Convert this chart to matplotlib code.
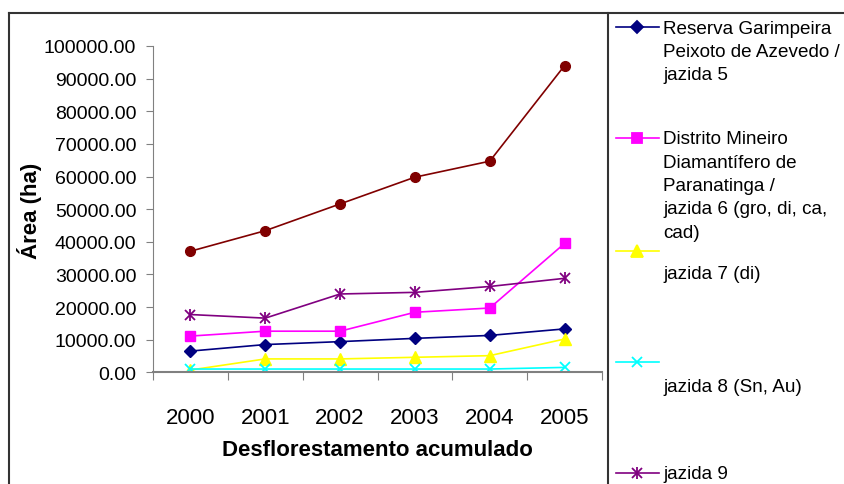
import numpy as np
import matplotlib.pyplot as plt
from matplotlib.lines import Line2D

plt.rcParams['font.family'] = ['Liberation Sans', 'DejaVu Sans']

# Dados: área desflorestada acumulada (ha) por jazida
anos = ['2000', '2001', '2002', '2003', '2004', '2005']
jazida5 = [6500, 8500, 9400, 10400, 11300, 13300]
jazida6 = [11100, 12600, 12600, 18400, 19700, 39500]
jazida7 = [700, 4100, 4100, 4600, 5100, 10200]
jazida8 = [1000, 1000, 1000, 1000, 1000, 1500]
jazida9 = [17700, 16600, 24000, 24500, 26300, 28800]
jazida10 = [37100, 43400, 51600, 59800, 64700, 94000]

W, H = 844, 485
fig = plt.figure(figsize=(W / 100, H / 100), dpi=100)


def fx(x):
    return x / W


def fy(y):
    return 1 - y / H


ax = fig.add_axes([fx(153), fy(373.3), (602 - 153) / W, (373.3 - 47) / H])

x = np.arange(len(anos))
lw = 1.2
ax.plot(x, jazida5, color='#000080', lw=lw, marker='D', ms=6)
ax.plot(x, jazida6, color='#FF00FF', lw=lw, marker='s', ms=7)
ax.plot(x, jazida7, color='#FFFF00', lw=lw, marker='^', ms=8)
ax.plot(x, jazida8, color='#00FFFF', lw=lw, marker='x', ms=7, mew=1.3)
ax.plot(x, jazida9, color='#800080', lw=lw, marker='x', ms=7, mew=1.3)
ax.plot(x, jazida9, color='#800080', lw=0, marker='|', ms=8, mew=1.3)
ax.plot(x, jazida10, color='#800000', lw=lw, marker='o', ms=7)

ax.set_xlim(-0.5, len(anos) - 0.5)
ax.set_ylim(0, 100000)
ax.set_yticks(np.arange(0, 100001, 10000))
ax.set_yticklabels(['%.2f' % v for v in np.arange(0, 100001, 10000)])
ax.set_xticks(np.arange(-0.5, len(anos), 1.0))
ax.set_xticklabels([])
ax.set_xticks(x, minor=True)
ax.set_xticklabels(anos, minor=True)

for s in ['top', 'right']:
    ax.spines[s].set_visible(False)
ax.spines['left'].set_color('#808080')
ax.spines['bottom'].set_color('#808080')
ax.spines['bottom'].set_linewidth(1.5)
ax.tick_params(axis='y', direction='out', length=5, color='#808080',
               labelsize=14, pad=7)
ax.tick_params(axis='x', which='major', direction='out', length=6,
               color='#808080')
ax.tick_params(axis='x', which='minor', length=0, labelsize=16, pad=25)

fig.text(fx(377), fy(451), 'Desflorestamento acumulado', ha='center',
         va='center', fontsize=16, fontweight='bold')
fig.text(fx(30), fy(211), 'Área (ha)', ha='center', va='center',
         rotation=90, fontsize=16, fontweight='bold')

# Moldura do gráfico e da legenda
frame = dict(color='#333333', lw=1.5, transform=fig.transFigure)
fig.add_artist(Line2D([fx(9), 1], [fy(14), fy(14)], **frame))
fig.add_artist(Line2D([fx(9), fx(9)], [fy(14), 0], **frame))
fig.add_artist(Line2D([fx(608), fx(608)], [fy(14), 0], **frame))

# Legenda
legenda = [
    ('#000080', 'D', 6, 28, ['Reserva Garimpeira', 'Peixoto de Azevedo /',
                             'jazida 5'], 33.5),
    ('#FF00FF', 's', 7, 139, ['Distrito Mineiro', 'Diamantífero de',
                              'Paranatinga /', 'jazida 6 (gro, di, ca,',
                              'cad)'], 144.3),
    ('#FFFF00', '^', 8, 251.7, ['jazida 7 (di)'], 279),
    ('#00FFFF', 'x', 7, 362.7, ['jazida 8 (Sn, Au)'], 392.3),
    ('#800080', 'x', 7, 474.3, ['jazida 9'], 479),
]
for cor, mk, ms, ly, linhas, base in legenda:
    fig.add_artist(Line2D([fx(616), fx(659)], [fy(ly), fy(ly)], color=cor,
                          lw=lw, transform=fig.transFigure))
    fig.add_artist(Line2D([fx(637)], [fy(ly)], color=cor, marker=mk, ms=ms,
                          mew=1.3, transform=fig.transFigure))
    if cor == '#800080':
        fig.add_artist(Line2D([fx(637)], [fy(ly)], color=cor, marker='|',
                              ms=8, mew=1.3, transform=fig.transFigure))
    for i, t in enumerate(linhas):
        fig.text(fx(663), fy(base + i * 23.3), t, ha='left', va='baseline',
                 fontsize=13.6)

fig.savefig('out.png', dpi=100)
